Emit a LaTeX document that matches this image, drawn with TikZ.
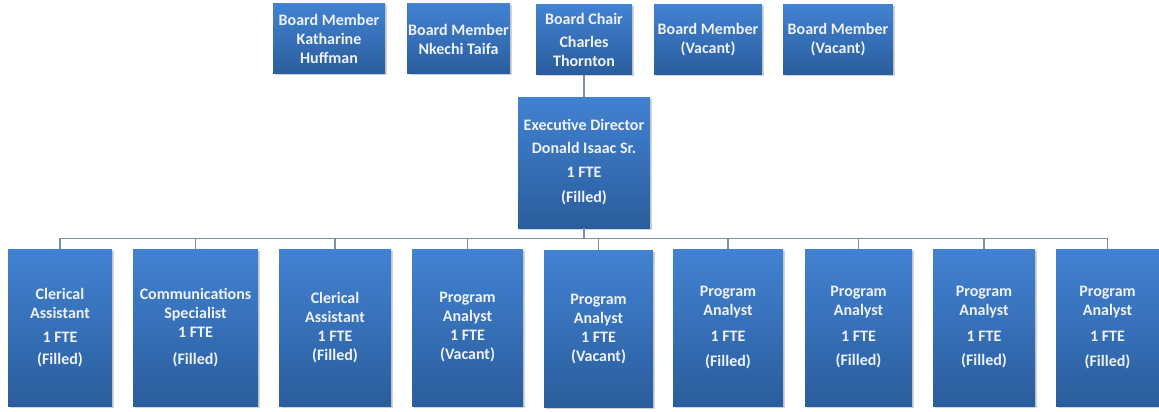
\documentclass[tikz,border=0pt]{standalone}
\usepackage{fontspec}
\setmainfont{Carlito}
\usepackage{tikz}
\usetikzlibrary{shadows}

\definecolor{boxtop}{HTML}{4282D2}
\definecolor{boxbot}{HTML}{2A5D9C}
\definecolor{boxtext}{HTML}{EEF2F8}
\definecolor{linegray}{HTML}{7F8EA3}

\begin{document}
\begin{tikzpicture}
	 [x=1pt,y=-1pt,
	  every node/.style={rectangle,top color=boxtop,bottom color=boxbot,text=boxtext,
	    font=\fontsize{16}{19}\selectfont\bfseries,align=center,inner sep=0pt,
	    drop shadow={opacity=0.35,shadow xshift=1.5pt,shadow yshift=-1.5pt}},
	  board/.style={minimum height=70pt},
	  staff/.style={minimum height=157pt},
	  link/.style={draw=linegray,line width=1.3pt}]

	\path[use as bounding box,fill=white] (0,0) rectangle (1159,412);

	% board
	  \node[board,minimum width=112pt] (bm1) at (329,39) {Board Member\\Katharine\\Huffman};
	  \node[board,minimum width=103pt] (bm2) at (458.5,39) {Board Member\\Nkechi Taifa};
	  \node[board,minimum width=96pt] (chair) at (584,39.5) {Board Chair\\[4pt]Charles\\Thornton};
	  \node[board,minimum width=108pt] (bm4) at (708,39.5) {Board Member\\(Vacant)};
	  \node[board,minimum width=110pt] (bm5) at (838,39.5) {Board Member\\(Vacant)};

	% director
	  \node[minimum width=132pt,minimum height=131pt] (ed) at (584,162.5)
	    {Executive Director\\[4pt]Donald Isaac Sr.\\[5pt]1 FTE\\[6pt](Filled)};

	% staff
	  \node[staff,minimum width=104pt] (c1) at (60,327.5) {Clerical\\Assistant\\[5pt]1 FTE\\[3pt](Filled)};
	  \node[staff,minimum width=125pt] (c2) at (195.5,327.5) {Communications\\Specialist\\1 FTE\\[8pt](Filled)};
	  \node[staff,minimum width=112pt] (c3) at (335,327.5) {Clerical\\Assistant\\1 FTE\\(Filled)};
	  \node[staff,minimum width=111pt] (c4) at (467.5,327.5) {Program\\Analyst\\1 FTE\\(Vacant)};
	  \node[staff,minimum width=109pt] (c5) at (598.5,329) {Program\\Analyst\\1 FTE\\(Vacant)};
	  \node[staff,minimum width=110pt] (c6) at (728,327.5) {Program\\Analyst\\[7pt]1 FTE\\[6pt](Filled)};
	  \node[staff,minimum width=107pt] (c7) at (858.5,327.5) {Program\\Analyst\\[7pt]1 FTE\\[5pt](Filled)};
	  \node[staff,minimum width=102pt] (c8) at (984,327.5) {Program\\Analyst\\[7pt]1 FTE\\[5pt](Filled)};
	  \node[staff,minimum width=103pt] (c9) at (1107.5,327.5) {Program\\Analyst\\[7pt]1 FTE\\[6pt](Filled)};

	\draw[link] (chair) -- (ed);

	\foreach \to in {c1,c2,c3,c4,c5,c6,c7,c8,c9}
    \draw[link] (ed.south) -- ++(0,10) -| (\to.north);

\end{tikzpicture}
\end{document}
